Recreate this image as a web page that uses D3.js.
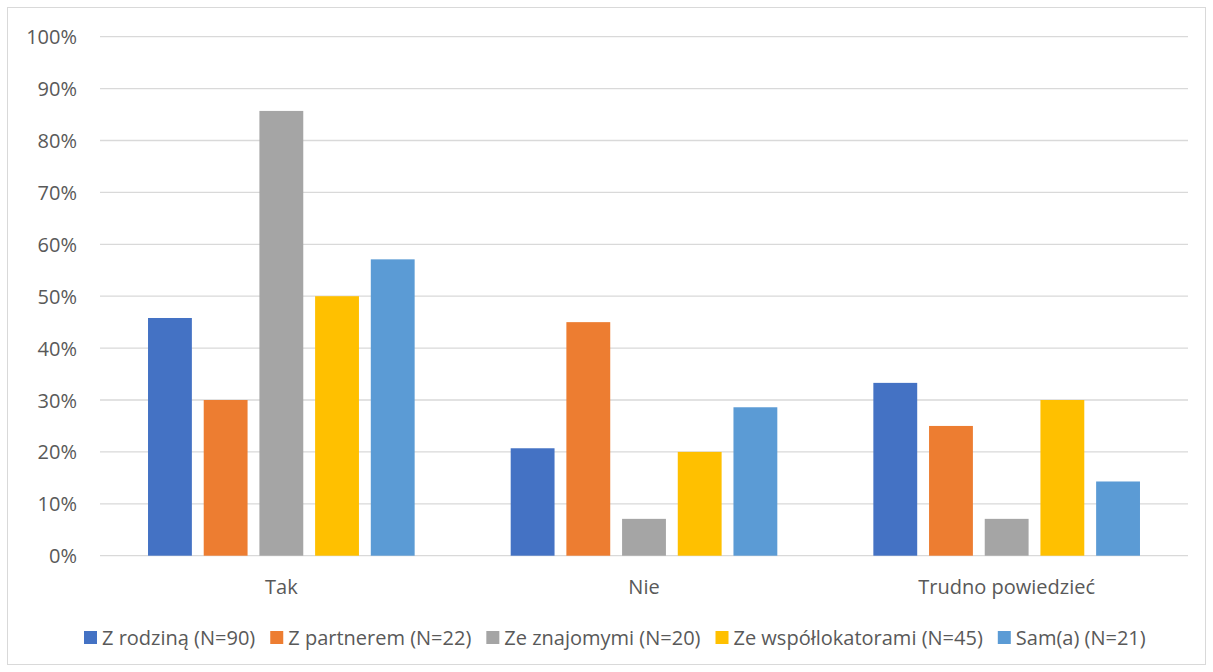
<!DOCTYPE html>
<html>
<head>
<meta charset="utf-8">
<script src="https://cdn.jsdelivr.net/npm/d3@7/dist/d3.min.js"></script>
<style>
  html, body { margin: 0; padding: 0; background: #fff; }
  svg { display: block; }
  text { font-family: "Open Sans", sans-serif; fill: #595959; }
</style>
</head>
<body>
<svg id="chart" width="1213" height="672"></svg>
<script>
// Answer categories
const categories = ["Tak", "Nie", "Trudno powiedzieć"];
// Living situation groups (series)
const seriesNames = [
  "Z rodziną (N=90)",
  "Z partnerem (N=22)",
  "Ze znajomymi (N=20)",
  "Ze współlokatorami (N=45)",
  "Sam(a) (N=21)"
];
// Share of answers per group, in percent, ordered as categories
const zRodzina = [45.8, 20.7, 33.3];
const zPartnerem = [30.0, 45.0, 25.0];
const zeZnajomymi = [85.7, 7.1, 7.1];
const zeWspollokatorami = [50.0, 20.0, 30.0];
const samA = [57.1, 28.6, 14.3];
const yTicks = [0, 10, 20, 30, 40, 50, 60, 70, 80, 90, 100];

const colors = ["#4472C4", "#ED7D31", "#A5A5A5", "#FFC000", "#5B9BD5"];
const seriesValues = [zRodzina, zPartnerem, zeZnajomymi, zeWspollokatorami, samA];

const FONT = "'Open Sans', sans-serif";
const FS = 20;

const svg = d3.select("#chart");
const W = 1213, H = 672;

// chart frame
svg.append("rect")
  .attr("x", 7.5).attr("y", 7.5)
  .attr("width", W - 15).attr("height", H - 15)
  .attr("fill", "#fff").attr("stroke", "#d9d9d9").attr("stroke-width", 1);

const plot = { left: 100, right: 1188, top: 36.7, bottom: 555.7 };

const y = d3.scaleLinear().domain([0, 100]).range([plot.bottom, plot.top]);
const x0 = d3.scaleBand().domain(categories).range([plot.left, plot.right]).padding(0);

// bar geometry: gap width 219%, overlap -27%
const gapWidth = 2.19, overlap = -0.27;
const nS = seriesNames.length;
const barW = x0.bandwidth() / (nS + (nS - 1) * (-overlap) + gapWidth);
const step = barW * (1 - overlap);
const x1 = d3.scaleOrdinal()
  .domain(d3.range(nS))
  .range(d3.range(nS).map(i => barW * gapWidth / 2 + i * step));

// gridlines
svg.append("g")
  .selectAll("line")
  .data(yTicks)
  .join("line")
  .attr("x1", plot.left).attr("x2", plot.right)
  .attr("y1", d => y(d)).attr("y2", d => y(d))
  .attr("stroke", "#d9d9d9").attr("stroke-width", 1.3);

// y axis labels
const yAxis = d3.axisLeft(y).tickValues(yTicks).tickFormat(d => d + "%").tickSize(0).tickPadding(0);
const gy = svg.append("g").attr("transform", `translate(77,0)`).call(yAxis);
gy.select(".domain").remove();
gy.selectAll("text")
  .attr("font-size", FS)
  .attr("font-family", FONT)
  .attr("fill", "#595959")
  .attr("dy", "0.35em");

// bars
const groups = svg.append("g")
  .selectAll("g")
  .data(seriesValues)
  .join("g")
  .attr("fill", (d, i) => colors[i]);

groups.each(function (vals, si) {
  d3.select(this).selectAll("rect")
    .data(vals)
    .join("rect")
    .attr("x", (v, ci) => x0(categories[ci]) + x1(si))
    .attr("y", v => y(v))
    .attr("width", barW)
    .attr("height", v => y(0) - y(v));
});

// category axis
const xAxis = d3.axisBottom(x0).tickSize(0).tickPadding(0);
const gx = svg.append("g").attr("transform", `translate(0,${plot.bottom})`).call(xAxis);
gx.select(".domain").remove();
gx.selectAll("text")
  .attr("font-size", FS)
  .attr("font-family", FONT)
  .attr("fill", "#595959")
  .attr("y", 0)
  .attr("dy", 38);

// legend
const legend = svg.append("g");
const items = legend.selectAll("g")
  .data(seriesNames)
  .join("g");
items.append("rect")
  .attr("width", 13).attr("height", 13)
  .attr("y", 631)
  .attr("fill", (d, i) => colors[i]);
items.append("text")
  .attr("x", 18)
  .attr("y", 645)
  .attr("font-size", FS)
  .text(d => d);

// lay items out in a row starting under the plot's left side
let offs = [], total = 0;
items.each(function (d, i) {
  const w = 18 + this.querySelector("text").getComputedTextLength();
  offs.push(total);
  total += w + (i < nS - 1 ? 15 : 0);
});
const startX = 84;
items.attr("transform", (d, i) => `translate(${startX + offs[i]},0)`);
</script>
</body>
</html>
